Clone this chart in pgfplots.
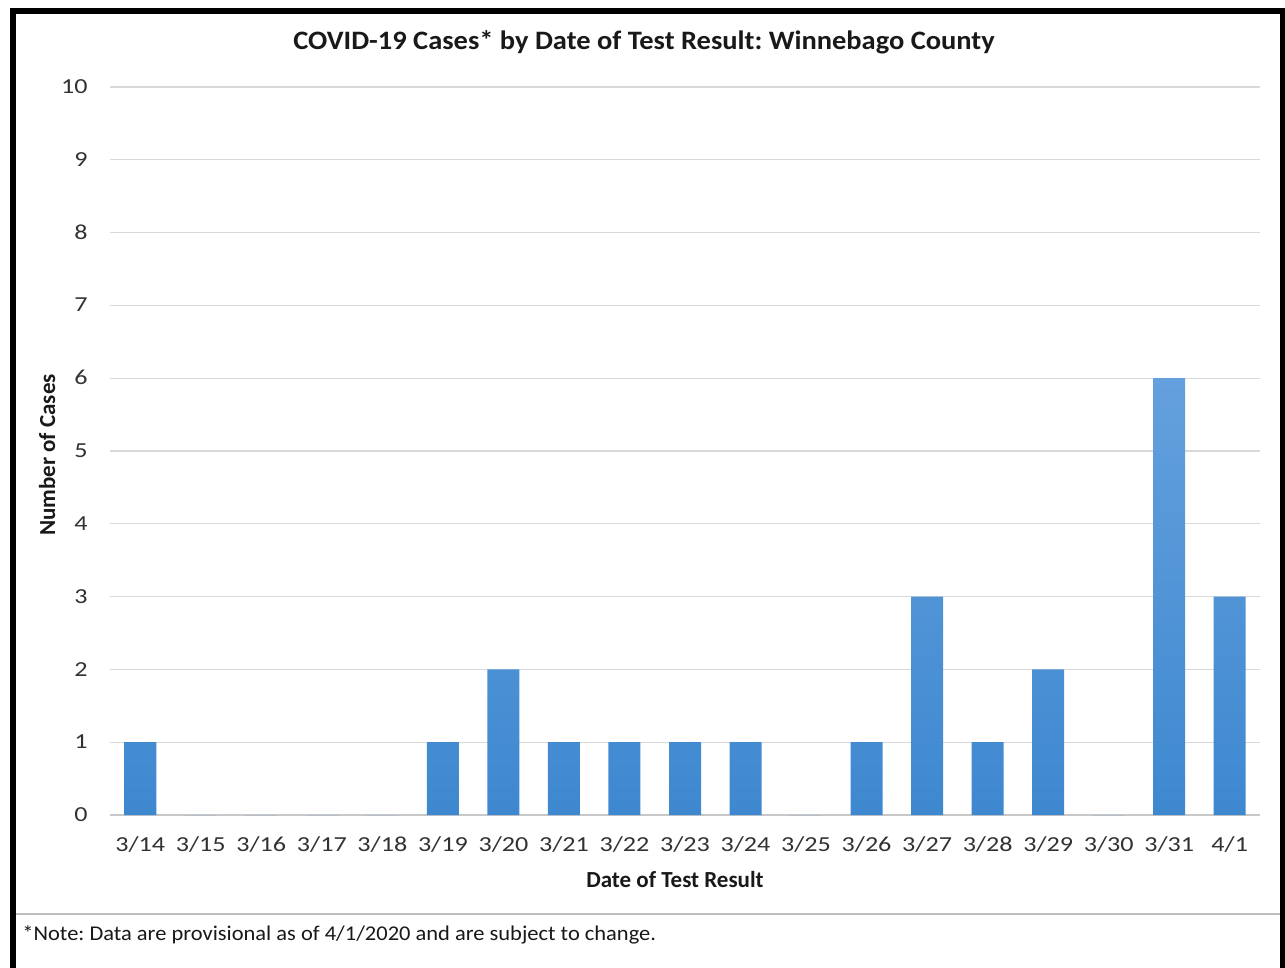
\documentclass[border=0pt]{standalone}
\usepackage{pgfplots}
\pgfplotsset{compat=1.18}
\usepackage{fontspec}
\setmainfont{Carlito}
\newfontfamily\tickfont[FakeStretch=1.22]{Carlito}
\newfontfamily\notefont[FakeStretch=1.07]{Carlito}
\newfontfamily\titlefont[FakeStretch=1.07]{Carlito}
\definecolor{barTop}{RGB}{100,160,221}
\definecolor{barBot}{RGB}{62,136,208}
\definecolor{gridc}{RGB}{217,217,217}
\definecolor{textc}{RGB}{50,50,50}
\frenchspacing
\begin{document}
\begin{tikzpicture}
\useasboundingbox (0,0) rectangle (642.5pt,-484pt);
\fill[white] (0,0) rectangle (642.5pt,-484pt);
% frame
\draw[line width=3pt] (6.5pt,-490pt) -- (6.5pt,-5.75pt) -- (641.25pt,-5.75pt) -- (641.25pt,-490pt);
\draw[line width=0.8pt, color={rgb,255:red,190;green,190;blue,190}] (8pt,-457pt) -- (640pt,-457pt);
\begin{axis}[
  at={(55pt,-407.5pt)}, anchor=south west,
  scale only axis, width=575pt, height=364pt,
  xmin=-0.5, xmax=18.5, ymin=0, ymax=10,
  ytick={0,1,...,10},
  xtick={0,1,...,18},
  xticklabels={3/14,3/15,3/16,3/17,3/18,3/19,3/20,3/21,3/22,3/23,3/24,3/25,3/26,3/27,3/28,3/29,3/30,3/31,4/1},
  /pgf/number format/assume math mode=true,
  axis lines*=left,
  x axis line style={draw={rgb,255:red,200;green,200;blue,200}, line width=0.6pt},
  y axis line style={draw=none},
  major tick length=0pt,
  ymajorgrids, grid style={draw=gridc, line width=0.6pt},
  tick label style={font=\tickfont\fontsize{10.7}{12}\selectfont, text=textc},
  xticklabel style={anchor=base, inner sep=0pt, yshift=-18.25pt},
  yticklabel style={anchor=base east, inner sep=0pt, xshift=-11pt, yshift=-3.3pt},
  clip=false,
]
\addplot[ybar, bar width=16pt, draw=none, top color=barTop, bottom color=barBot] coordinates {
(0,1) (1,0) (2,0) (3,0) (4,0) (5,1) (6,2) (7,1) (8,1) (9,1) (10,1) (11,0) (12,1) (13,3) (14,1) (15,2) (16,0) (17,6) (18,3)
};
\end{axis}
\node[anchor=base, inner sep=0pt, font=\titlefont\fontsize{13.3}{15}\selectfont\bfseries, text=black!90] at (322pt,-25pt) {COVID-19 Cases* by Date of Test Result: Winnebago County};
\node[anchor=base, inner sep=0pt, font=\fontsize{11.5}{13}\selectfont\bfseries, text=black!90] at (337.5pt,-443.5pt) {Date of Test Result};
\node[anchor=base, rotate=90, inner sep=0pt, font=\fontsize{11.5}{13}\selectfont\bfseries, text=black!90] at (27.5pt,-227.5pt) {Number of Cases};
\node[anchor=base west, inner sep=0pt, font=\notefont\fontsize{10.5}{12}\selectfont, text=black!90] at (11pt,-470pt) {*Note: Data are provisional as of 4/1/2020 and are subject to change.};
\end{tikzpicture}
\end{document}
